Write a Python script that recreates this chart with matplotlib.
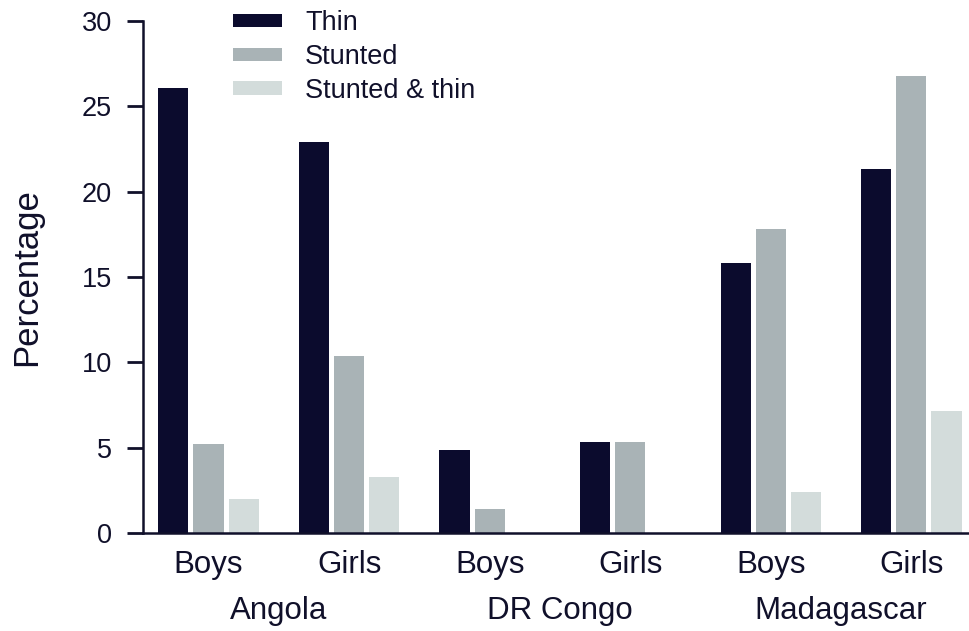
import matplotlib

matplotlib.use("Agg")
import matplotlib.pyplot as plt
import matplotlib.transforms as mtransforms
import numpy as np

plt.rcParams["font.family"] = ["Liberation Sans", "DejaVu Sans"]

# データ
countries = ["Angola", "DR Congo", "Madagascar"]
sexes = ["Boys", "Girls", "Boys", "Girls", "Boys", "Girls"]
series = ["Thin", "Stunted", "Stunted & thin"]
thin = [26.1, 22.9, 4.85, 5.35, 15.8, 21.3]
stunted = [5.2, 10.4, 1.4, 5.35, 17.8, 26.8]
stunted_thin = [2.0, 3.3, 0.0, 0.0, 2.4, 7.15]

colors = ["#0b0b2d", "#a9b3b6", "#d3dcdb"]
ink = "#10102a"

fig = plt.figure(figsize=(9.69, 6.31), dpi=100)
ax = fig.add_axes([143 / 969, 1 - 533 / 631, 1 - 143 / 969, (533 - 21) / 631])

x = np.arange(len(sexes))
step = 0.25
width = 0.214
for i, (vals, c, name) in enumerate(zip([thin, stunted, stunted_thin], colors, series)):
    ax.bar(x + (i - 1) * step, vals, width=width, color=c, label=name)

ax.set_xlim(-0.466, 5.41)
ax.set_ylim(0, 30)
ax.set_yticks([0, 5, 10, 15, 20, 25, 30])

for s in ["top", "right"]:
    ax.spines[s].set_visible(False)
for s in ["left", "bottom"]:
    ax.spines[s].set_linewidth(1.8)
    ax.spines[s].set_color(ink)

ax.tick_params(axis="y", length=11.5, width=2, color=ink, labelsize=19.5,
               labelcolor=ink, pad=11)
ax.set_xticks(x)
ax.set_xticklabels(sexes)
ax.tick_params(axis="x", length=0, labelsize=22.5, labelcolor=ink, pad=12)

ax.set_ylabel("Percentage", fontsize=25, color=ink)
ax.yaxis.set_label_coords(-0.121, 0.5)

# 国名ラベル
trans = mtransforms.blended_transform_factory(ax.transData, fig.transFigure)
for k, name in enumerate(countries):
    ax.text(2 * k + 0.5, 1 - 608 / 631, name, transform=trans, ha="center",
            va="center_baseline", fontsize=22.5, color=ink)

leg = fig.legend(
    loc="upper left",
    bbox_to_anchor=(233 / 969, 1 - 10 / 631),
    frameon=False,
    borderpad=0,
    borderaxespad=0,
    fontsize=19.5,
    handlelength=1.81,
    handleheight=0.37,
    handletextpad=0.85,
    labelspacing=0.29,
)
for t in leg.get_texts():
    t.set_color(ink)

plt.savefig("out.png", dpi=100)
plt.close(fig)
